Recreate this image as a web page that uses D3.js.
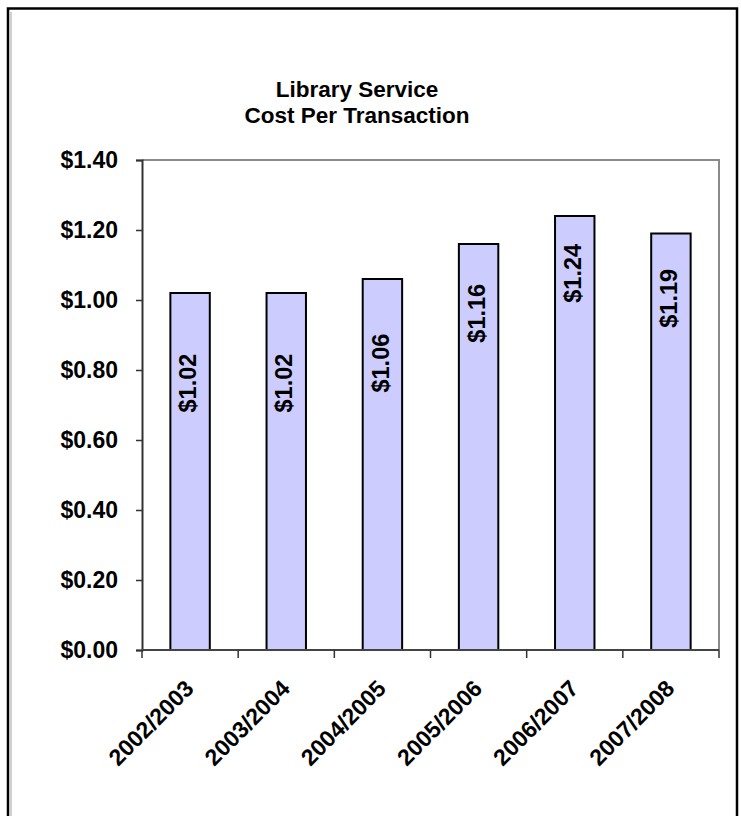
<!DOCTYPE html>
<html>
<head>
<meta charset="utf-8">
<script src="https://cdn.jsdelivr.net/npm/d3@7"></script>
<style>
  html, body { margin: 0; padding: 0; background: #ffffff; }
  svg { display: block; }
  text { font-family: "Liberation Sans", Arial, sans-serif; }
</style>
</head>
<body>
<script>
// ---- data ----
const categories = ["2002/2003", "2003/2004", "2004/2005", "2005/2006", "2006/2007", "2007/2008"];
const costs = [1.02, 1.02, 1.06, 1.16, 1.24, 1.19];
const yTicks = [0, 0.2, 0.4, 0.6, 0.8, 1.0, 1.2, 1.4];
const titleLines = ["Library Service", "Cost Per Transaction"];

// ---- layout ----
const W = 741, H = 816;
const plot = { left: 142, right: 719, top: 160, bottom: 650 };

const svg = d3.select("body").append("svg").attr("width", W).attr("height", H);

// outer frame
svg.append("rect").attr("x", 8).attr("y", 8.5).attr("width", 729).attr("height", 840)
  .attr("fill", "none").attr("stroke", "#000").attr("stroke-width", 2.5);
svg.append("line").attr("x1", 11).attr("x2", 11).attr("y1", 12).attr("y2", H)
  .attr("stroke", "#a0a0a0").attr("stroke-width", 1);

// title
svg.append("text").attr("x", 357).attr("y", 97).attr("text-anchor", "middle")
  .attr("font-size", 22.5).attr("font-weight", "bold").text(titleLines[0]);
svg.append("text").attr("x", 357).attr("y", 123).attr("text-anchor", "middle")
  .attr("font-size", 22.5).attr("font-weight", "bold").text(titleLines[1]);

const x = d3.scaleBand().domain(categories).range([plot.left, plot.right]).padding(0);
const y = d3.scaleLinear().domain([0, 1.4]).range([plot.bottom, plot.top]);
const barW = x.bandwidth() * 0.41;

// plot-area border (top & right)
svg.append("path")
  .attr("d", `M${plot.left},${plot.top}H${plot.right}V${plot.bottom}`)
  .attr("fill", "none").attr("stroke", "#8a8a8a").attr("stroke-width", 2);

// bars
svg.append("g").selectAll("rect").data(costs).join("rect")
  .attr("x", (d, i) => x(categories[i]) + (x.bandwidth() - barW) / 2)
  .attr("y", d => y(d))
  .attr("width", barW)
  .attr("height", d => y(0) - y(d))
  .attr("fill", "#ccccff").attr("stroke", "#000").attr("stroke-width", 2);

// bar value labels (rotated)
const fmt = d3.format("$.2f");
svg.append("g").selectAll("text").data(costs).join("text")
  .attr("transform", (d, i) => {
    const cx = x(categories[i]) + x.bandwidth() / 2 - 2;
    const cy = y(0.898 + 1.425 * (d - 1.115));
    return `translate(${cx},${cy}) rotate(-90)`;
  })
  .attr("text-anchor", "middle").attr("dy", "0.35em")
  .attr("font-size", 23.5).attr("font-weight", "bold").attr("fill", "#000")
  .text(d => fmt(d));

// y axis
const yAxis = svg.append("g").attr("transform", `translate(${plot.left},0)`)
  .call(d3.axisLeft(y).tickValues(yTicks).tickFormat(fmt).tickSize(6).tickPadding(18));
yAxis.select(".domain").attr("stroke", "#333").attr("stroke-width", 2);
yAxis.selectAll(".tick line").attr("stroke", "#333").attr("stroke-width", 1.5);
yAxis.selectAll(".tick text").attr("font-size", 23).attr("font-weight", "bold")
  .attr("fill", "#000").attr("font-family", "Liberation Sans, Arial, sans-serif");

// x axis: ticks at category boundaries
const xAxisG = svg.append("g").attr("transform", `translate(0,${plot.bottom})`);
xAxisG.append("line").attr("x1", plot.left).attr("x2", plot.right)
  .attr("stroke", "#444").attr("stroke-width", 2);
const bounds = categories.map(c => x(c)).concat([x(categories[categories.length - 1]) + x.bandwidth()]);
xAxisG.selectAll("line.tk").data(bounds).join("line").attr("class", "tk")
  .attr("x1", d => d).attr("x2", d => d).attr("y1", 0).attr("y2", 8)
  .attr("stroke", "#333").attr("stroke-width", 1.5);
xAxisG.selectAll("text").data(categories).join("text")
  .attr("transform", c => `translate(${x(c) + x.bandwidth() / 2 + 5},${40}) rotate(-45)`)
  .attr("text-anchor", "end")
  .attr("font-size", 23).attr("font-weight", "bold").attr("fill", "#000")
  .text(c => c);
</script>
</body>
</html>
